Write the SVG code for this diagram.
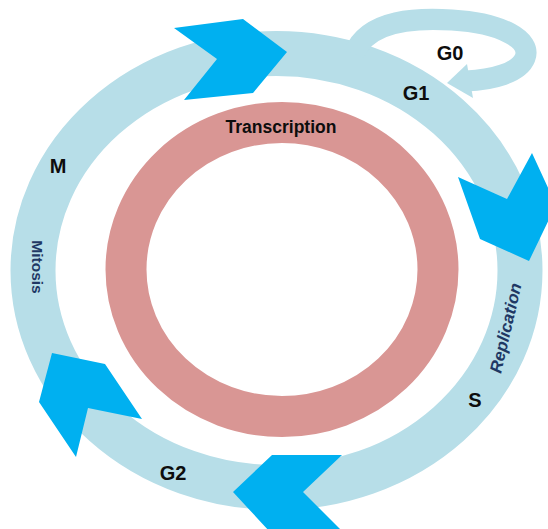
<svg xmlns="http://www.w3.org/2000/svg" width="548" height="529" viewBox="0 0 548 529">
<style>
.ring{fill:none;stroke:#B7DEE8;stroke-width:45}
.pink{fill:none;stroke:#D99694;stroke-width:41}
.chev{fill:#00B0F0}
.lbl{font-family:"Liberation Sans",Arial,sans-serif;font-weight:bold;font-size:20px;fill:#0D0D0D;text-anchor:middle}
.sub{font-family:"Liberation Sans",Arial,sans-serif;font-weight:bold;fill:#1F3864;text-anchor:middle}
</style>
<rect width="548" height="529" fill="#FFFFFF"/>
<g id="cycle-ring">
<ellipse class="ring" cx="276.5" cy="270.5" rx="243.5" ry="217"/>
</g>
<g id="g0-loop">
<path d="M354,54 C368,18 420,18 452,20 C502,23 532,40 525,58 C519,73 492,80 466,81" fill="none" stroke="#B7DEE8" stroke-width="21"/>
<polygon points="447,83 467,64 473,98" fill="#B7DEE8"/>
</g>
<g id="transcription-ring">
<ellipse class="pink" cx="282" cy="269.5" rx="156" ry="147"/>
<text class="lbl" x="281" y="133" style="font-size:17.5px">Transcription</text>
</g>
<g id="connectors">
<polygon class="chev" points="174,28 243,19 287,52 253,93 184,100 217,59"/>
<polygon class="chev" points="458,177 507,199 532,153 556,205 529,261 480,239"/>
<polygon class="chev" points="52,353 105,364 142,419 88,408 76,457 39,402"/>
<polygon class="chev" points="233,492 272,455 342,455 303,492 343,532 270,532"/>
</g>
<g id="label-G0"><text class="lbl" x="450" y="60">G0</text></g>
<g id="label-G1"><text class="lbl" x="416" y="100">G1</text></g>
<g id="label-M"><text class="lbl" x="58" y="173">M</text></g>
<g id="label-S"><text class="lbl" x="475" y="407">S</text></g>
<g id="label-G2"><text class="lbl" x="173" y="480">G2</text></g>
<g id="label-mitosis"><text class="sub" transform="translate(36.5,267) rotate(90)" x="0" y="5" style="font-size:15.5px">Mitosis</text></g>
<g id="label-replication"><text class="sub" transform="translate(506,328) rotate(-77)" x="0" y="5.5" style="font-size:17px;font-style:italic">Replication</text></g>
</svg>
